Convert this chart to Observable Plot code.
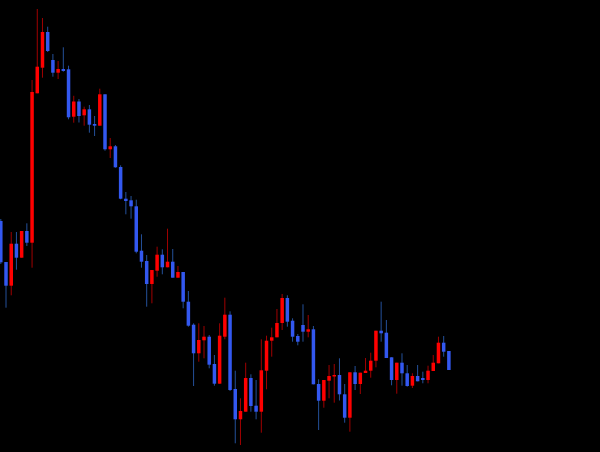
<!DOCTYPE html>
<html>
<head>
<meta charset="utf-8">
<script src="https://cdn.jsdelivr.net/npm/d3@7"></script>
<script src="https://cdn.jsdelivr.net/npm/@observablehq/plot@0.6"></script>
<style>
  html, body { margin: 0; padding: 0; background: #000; }
  #chart { width: 600px; height: 452px; overflow: hidden; }
</style>
</head>
<body>
<div id="chart"></div>
<script>
const open  = [231,190,166.3,208.3,194.3,221,209.3,358.7,384.3,420,392,379.3,383,382.7,335.3,350.5,336.7,342.7,328,326.3,357.7,302.7,305.7,285,253.3,251.7,245.7,201.3,191,168,181.3,197.3,184.7,190.3,174.3,180,150.3,127.3,98.7,111.7,115.3,88,68.3,115.3,137.3,63,32.7,40.3,74,46.3,40.3,81.3,111.3,114.7,129,154,131.3,116,127,120.3,122.7,68,51.3,71.3,75.5,77,57.7,34.3,79.7,68,79,81.3,91.3,121.3,119.3,94.7,72,89.3,78.7,66.3,76,74,72,81,88.7,109.3,101];
const high  = [233,190,220,220,221,228.7,372,443,434,425.3,398,391,404.7,386.3,356.2,353,345.3,347,336,363.3,357.7,314,307,286.7,260,256,252.3,217.7,197,182,205.3,202.7,223.3,203,186,180,161,128.7,128.7,126,117,97,128.7,154.3,140.7,81.3,53.7,89.3,77.7,72,112.7,116.3,124.3,143,158,156.7,133.7,118,147.7,137,126,72.7,72,87,88,93.7,68,79.7,86,79.3,94,99.3,121.3,150.3,132,94.7,89.3,98.7,87,78.7,87,80.3,86.3,97,115.3,116,101];
const low   = [188,144.3,156.7,182.3,194.3,206,184.3,358.7,374.3,400,375.3,373,380.3,332.7,329.3,329.5,326.3,319.3,316,326.3,301.3,294,284.3,252.7,237.7,233.3,198.7,184.3,145.3,148.7,175.3,177.7,184.7,174.3,174.3,143.7,125.3,66,90.3,93.7,83.7,66.3,68.3,112.7,61,8.7,7,40.3,40.3,32.7,19.3,62.7,95.3,114.7,122,125.3,110.3,106.7,110.3,114.7,67.7,22,44.3,53.7,49.3,51.5,29.3,20.3,62,58,79,74.3,84.7,110.3,94,66.7,58.3,66.3,65.3,64,70.7,68.7,68.7,81,88.7,95.3,82];
const close = [189.7,166.3,208.3,194.3,221,209.3,360,385.3,420,401,379.3,383,381,334.7,350.5,336,342.7,327.3,326.3,357.7,302.7,305.7,284.7,253.3,251,245.7,200.3,190.3,168,182,197.3,184.7,190.3,174.3,180,150.3,126.3,98.7,112,115.3,87.3,68.3,116.3,137.3,62,32.7,41,74,46,40.3,81.7,111.3,114.7,129,154,130.3,115.3,110.3,120.3,122.7,67.7,51.3,72,76,77,57.7,34.3,79.7,68,79.3,81.3,91.3,121.3,118.7,94,72,89.3,78.7,66,76,70.7,72,81.3,89.3,109.3,100.3,82];

const candles = open.map((o, i) => ({
  i, open: o, high: high[i], low: low[i], close: close[i], up: close[i] >= o
}));

const bodyUp = "#ff0000", bodyDown = "#3358f0";
const wickUp = "#a00000", wickDown = "#24509a";

const chart = Plot.plot({
  width: 600,
  height: 452,
  marginTop: 0, marginRight: 0, marginBottom: 0, marginLeft: 0,
  style: { background: "#000" },
  x: { type: "linear", domain: [-0.058, 115.1], axis: null },
  y: { type: "linear", domain: [0, 452], axis: null },
  marks: [
    Plot.ruleX(candles, { x: "i", y1: "low", y2: "high", stroke: d => d.up ? wickUp : wickDown, strokeWidth: 1 }),
    Plot.ruleX(candles, { x: "i", y1: "open", y2: "close", stroke: d => d.up ? bodyUp : bodyDown, strokeWidth: 3.5 })
  ]
});
document.getElementById("chart").appendChild(chart);
</script>
</body>
</html>
